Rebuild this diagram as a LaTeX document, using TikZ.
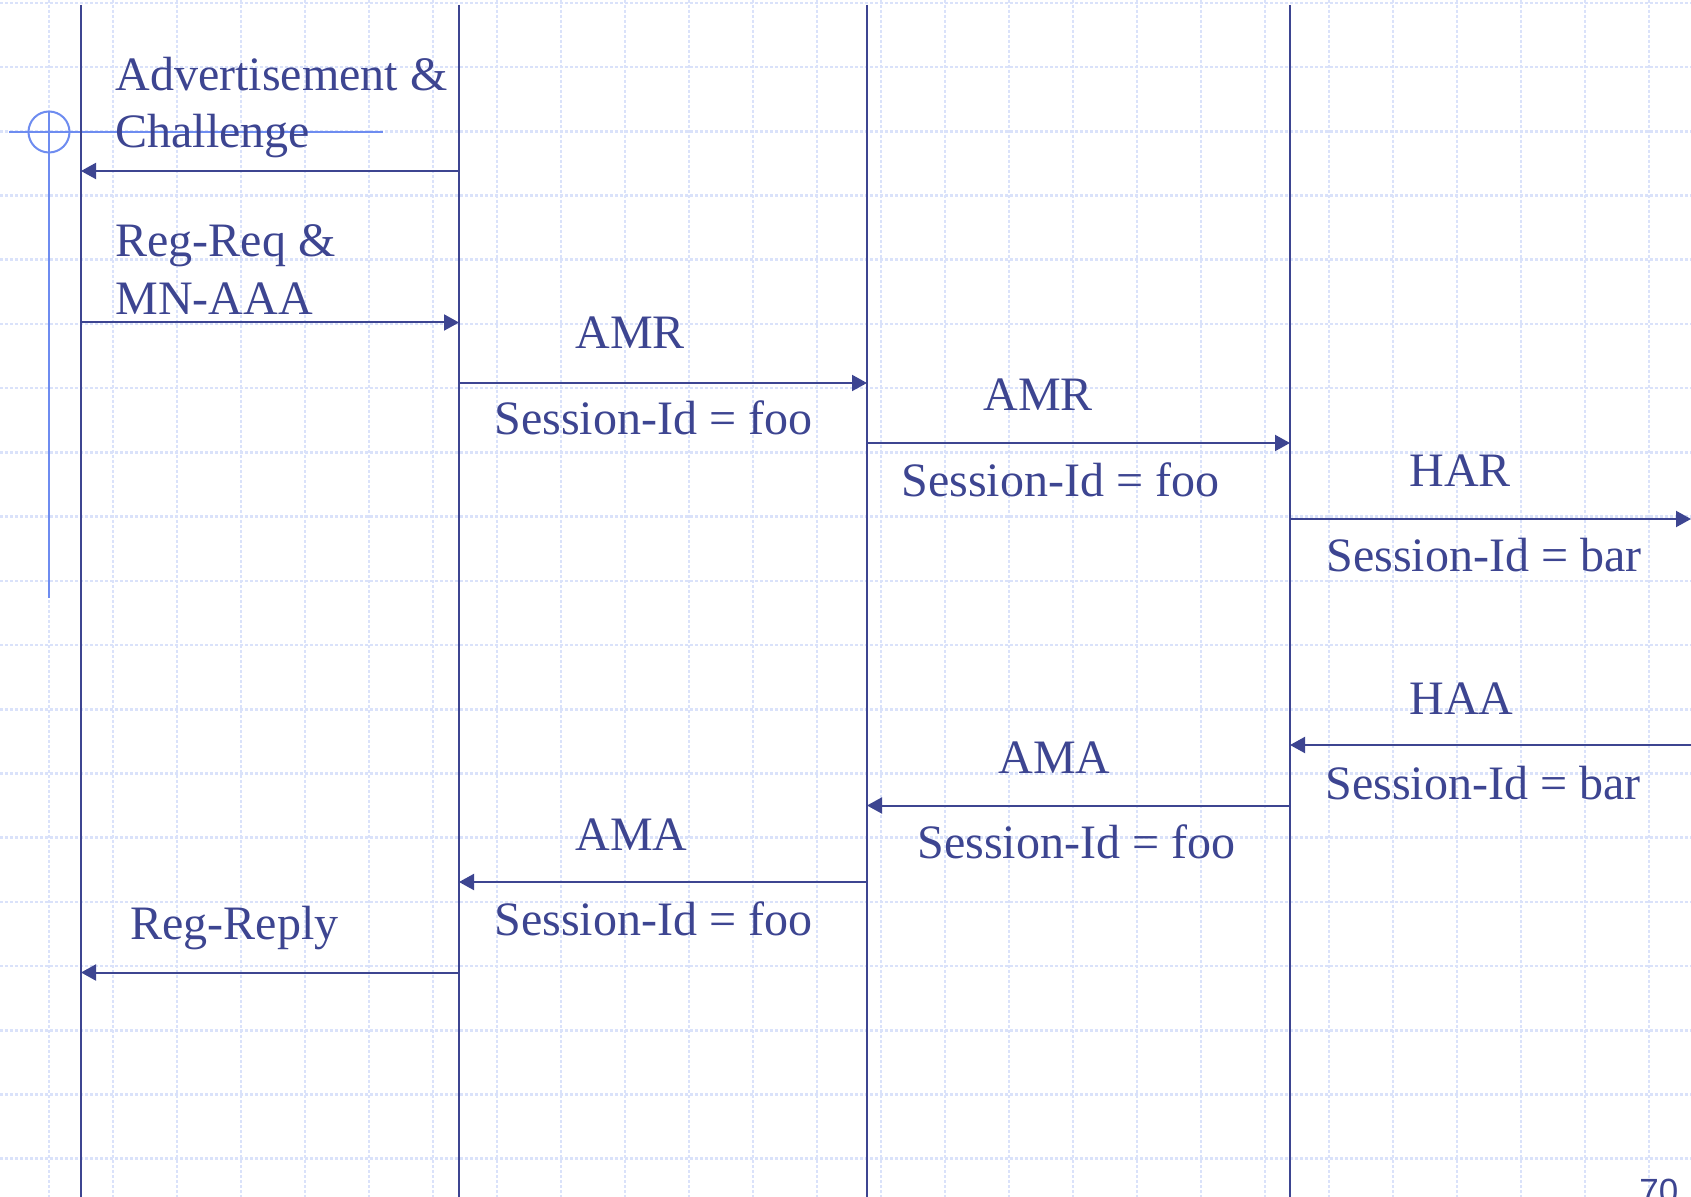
\documentclass[tikz,border=0pt]{standalone}
\usepackage{fontspec}
\setmainfont{Liberation Serif}
\newfontfamily\numfont{Liberation Sans}
\usetikzlibrary{arrows.meta}
\definecolor{ink}{RGB}{61,69,145}
\definecolor{gridc}{RGB}{218,226,250}
\definecolor{cross}{RGB}{110,140,240}

\begin{document}
\begin{tikzpicture}[x=0.5pt,y=-0.5pt,
  lifeline/.style={draw=ink,line width=1.4pt},
  msg/.style={draw=ink,line width=1pt,-{Triangle[length=7.5pt,width=8pt]}},
  lbl/.style={text=ink,inner sep=0pt,anchor=base west,font=\fontsize{24}{28.8}\selectfont},
  gridline/.style={draw=gridc,line width=1.3pt,dash pattern=on 1.5pt off 1pt},
  crossline/.style={draw=cross,line width=1pt}]
\useasboundingbox (0,0) rectangle (1691,1197);
\fill[white] (0,0) rectangle (1691,1197);

% background grid
\foreach \k in {0,...,25} \draw[gridline] ({49+64*\k},0) -- ({49+64*\k},1197);
\foreach \k in {0,...,18} \draw[gridline] (0,{3+64.2*\k}) -- (1691,{3+64.2*\k});

% crosshair marker
\draw[crossline] (9,132) -- (383,132);
\draw[crossline] (49,112) -- (49,598);
\draw[crossline] (49,132) circle[radius=10.25pt];

% lifelines
\coordinate (m1t) at (81,5);   \coordinate (m1b) at (81,1197);
\coordinate (m2t) at (459,5);  \coordinate (m2b) at (459,1197);
\coordinate (m3t) at (867,5);  \coordinate (m3b) at (867,1197);
\coordinate (m4t) at (1290,5); \coordinate (m4b) at (1290,1197);
\draw[lifeline] (m1t) -- (m1b);
\draw[lifeline] (m2t) -- (m2b);
\draw[lifeline] (m3t) -- (m3b);
\draw[lifeline] (m4t) -- (m4b);

% message end points
\coordinate (adv-s) at (459,171);   \coordinate (adv-e) at (81,171);
\coordinate (reg-s) at (81,322.5);  \coordinate (reg-e) at (459,322.5);
\coordinate (amr1-s) at (459,383);  \coordinate (amr1-e) at (867,383);
\coordinate (amr2-s) at (867,443);  \coordinate (amr2-e) at (1290,443);
\coordinate (har-s) at (1290,519);  \coordinate (har-e) at (1691,519);
\coordinate (haa-s) at (1691,745);  \coordinate (haa-e) at (1290,745);
\coordinate (ama2-s) at (1290,805.5); \coordinate (ama2-e) at (867,805.5);
\coordinate (ama1-s) at (867,882);  \coordinate (ama1-e) at (459,882);
\coordinate (rr-s) at (459,972.5);  \coordinate (rr-e) at (81,972.5);

% messages
\draw[msg] (adv-s) -- (adv-e);
\draw[msg] (reg-s) -- (reg-e);
\draw[msg] (amr1-s) -- (amr1-e);
\draw[msg] (amr2-s) -- (amr2-e);
\draw[msg] (har-s) -- (har-e);
\draw[msg] (haa-s) -- (haa-e);
\draw[msg] (ama2-s) -- (ama2-e);
\draw[msg] (ama1-s) -- (ama1-e);
\draw[msg] (rr-s) -- (rr-e);

% labels
\node[lbl] (adv1) at (115,91) {Advertisement \&};
\node[lbl] (adv2) at (115,148) {Challenge};
\node[lbl] (reg1) at (115,257) {Reg-Req \&};
\node[lbl] (reg2) at (115,315) {MN-AAA};
\node[lbl] (amr1) at (575,349) {AMR};
\node[lbl] (sid1) at (494,435) {Session-Id = foo};
\node[lbl] (amr2) at (983,411) {AMR};
\node[lbl] (sid2) at (901,497) {Session-Id = foo};
\node[lbl] (har) at (1409,487) {HAR};
\node[lbl] (sidb1) at (1326,571) {Session-Id = bar};
\node[lbl] (haa) at (1409,714) {HAA};
\node[lbl] (sidb2) at (1325,799) {Session-Id = bar};
\node[lbl] (ama2) at (998,773) {AMA};
\node[lbl] (sid3) at (917,858) {Session-Id = foo};
\node[lbl] (ama1) at (575,850) {AMA};
\node[lbl] (sid4) at (494,935) {Session-Id = foo};
\node[lbl] (rr) at (130,939) {Reg-Reply};

% page number
\node[text=ink,inner sep=0pt,anchor=base west,font=\numfont\fontsize{17.5}{21}\selectfont] (pg) at (1639,1203) {70};
\end{tikzpicture}
\end{document}
